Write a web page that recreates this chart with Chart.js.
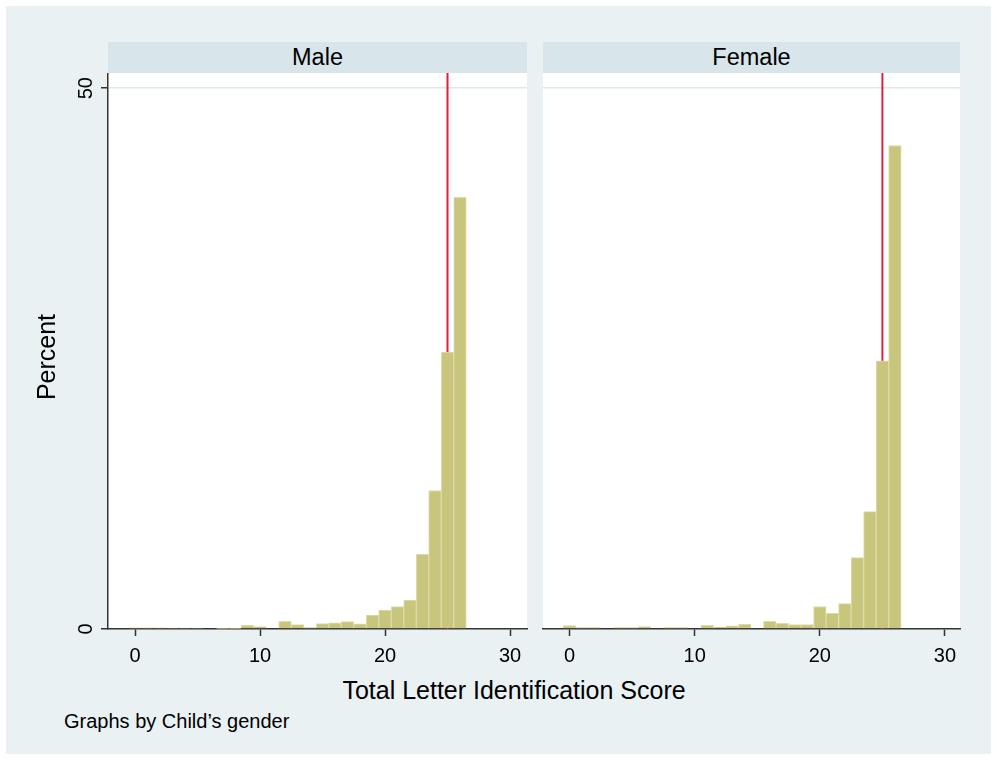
<!DOCTYPE html>
<html>
<head>
<meta charset="utf-8">
<title>Total Letter Identification Score by gender</title>
<script src="https://cdn.jsdelivr.net/npm/chart.js@4.4.1/dist/chart.umd.min.js"></script>
<style>
  html, body { margin: 0; padding: 0; background: #ffffff; }
  #page { position: relative; width: 997px; height: 760px; overflow: hidden;
          font-family: "Liberation Sans", Arial, Helvetica, sans-serif; color: #000; }
  #frame { position: absolute; left: 6px; top: 6px; width: 985px; height: 748px; background: #e9f1f3; }
  .strip { position: absolute; top: 42px; height: 31px; line-height: 31px; background: #d8e5ea;
           text-align: center; font-size: 23.5px; }
  canvas { position: absolute; }
  #ytitle { position: absolute; left: -54px; top: 342px; width: 200px; height: 30px; line-height: 30px;
            text-align: center; font-size: 25px; transform: rotate(-90deg); }
  #xtitle { position: absolute; left: 214px; top: 675px; width: 600px; height: 30px; line-height: 30px;
            text-align: center; font-size: 25px; }
  #note { position: absolute; left: 64px; top: 709px; height: 24px; line-height: 24px; font-size: 20px; white-space: nowrap; }
</style>
</head>
<body>
<div id="page">
  <div id="frame"></div>
  <div class="strip" style="left:108px;width:419px;">Male</div>
  <div class="strip" style="left:543px;width:417px;">Female</div>
  <canvas id="maleChart" width="540" height="600" style="left:0px;top:73px;"></canvas>
  <canvas id="femaleChart" width="440" height="600" style="left:530px;top:73px;"></canvas>
  <div id="ytitle">Percent</div>
  <div id="xtitle">Total Letter Identification Score</div>
  <div id="note">Graphs by Child’s gender</div>
</div>
<script>
// Score values (one bar per integer score)
const scores = [0, 1, 2, 3, 4, 5, 6, 7, 8, 9, 10, 11, 12, 13, 14, 15, 16, 17, 18, 19, 20, 21, 22, 23, 24, 25, 26];

// Percent of children at each score
const malePercent = [0.10, 0.10, 0.10, 0.08, 0.08, 0.08, 0, 0.06, 0.06, 0.35, 0.22, 0, 0.70, 0.40, 0.12,
                     0.50, 0.57, 0.68, 0.48, 1.28, 1.75, 2.08, 2.68, 6.9, 12.8, 25.6, 39.9];
const femalePercent = [0.31, 0.12, 0.12, 0, 0.12, 0.12, 0.22, 0, 0.12, 0.12, 0, 0.35, 0.18, 0.30, 0.43,
                       0, 0.72, 0.52, 0.42, 0.42, 2.08, 1.45, 2.35, 6.6, 10.85, 24.8, 44.7];

// Axis ticks and the reference score marked by the vertical line
const xTicks = [0, 10, 20, 30];
const yTicks = [0, 50];
const referenceScore = 25;

const FONT = '"Liberation Sans", Arial, Helvetica, sans-serif';
const AXIS = '#333333';
const BAR_FILL = 'rgb(200,198,124)';
const BAR_EDGE = 'rgb(222,220,170)';
const GRID = '#dde8ea';
const LINE_RED = '#e0203f';
const Y_MAX = 51.4;

const whitePlot = {
  id: 'whitePlot',
  beforeDraw(chart) {
    const a = chart.chartArea, ctx = chart.ctx;
    ctx.save();
    ctx.fillStyle = '#ffffff';
    ctx.fillRect(a.left, a.top, a.right - a.left, a.bottom - a.top);
    ctx.restore();
  }
};

// Vertical tick labels on the left axis
const rotatedYLabels = {
  id: 'rotatedYLabels',
  afterDraw(chart) {
    const ctx = chart.ctx, ys = chart.scales.y;
    ctx.save();
    ctx.fillStyle = '#000';
    ctx.font = '20px ' + FONT;
    ctx.textAlign = 'center';
    ctx.textBaseline = 'alphabetic';
    yTicks.forEach(v => {
      ctx.save();
      ctx.translate(ys.left + 92, ys.getPixelForValue(v));
      ctx.rotate(-Math.PI / 2);
      ctx.fillText(String(v), 0, 0);
      ctx.restore();
    });
    ctx.restore();
  }
};

function makePanel(canvasId, values, withYAxis, xMin, xMax) {
  const bars = scores.map((s, i) => ({ x: s, y: values[i] }));
  return new Chart(document.getElementById(canvasId), {
    type: 'bar',
    data: {
      datasets: [
        {
          type: 'bar',
          data: bars,
          backgroundColor: BAR_FILL,
          borderColor: BAR_EDGE,
          borderWidth: 1,
          barPercentage: 1,
          categoryPercentage: 1,
          order: 1
        },
        {
          type: 'line',
          data: [{ x: referenceScore, y: 0 }, { x: referenceScore, y: Y_MAX }],
          borderColor: LINE_RED,
          borderWidth: 2,
          pointRadius: 0,
          fill: false,
          order: 2
        }
      ]
    },
    options: {
      responsive: false,
      animation: false,
      events: [],
      layout: { padding: withYAxis ? { left: 0, right: 13, top: 0, bottom: 4 }
                                   : { left: 13, right: 10, top: 0, bottom: 4 } },
      plugins: { legend: { display: false }, tooltip: { enabled: false } },
      scales: {
        x: {
          type: 'linear',
          offset: false,
          min: xMin,
          max: xMax,
          afterBuildTicks: s => { s.ticks = xTicks.map(v => ({ value: v })); },
          afterFit: s => { s.height = 40; },
          border: { display: true, color: AXIS, width: 1.5 },
          grid: { offset: false, drawOnChartArea: false, drawTicks: true, tickLength: 7, tickColor: AXIS, tickWidth: 1.5 },
          ticks: { color: '#000', font: { size: 20, family: FONT }, padding: 8, maxRotation: 0, autoSkip: false }
        },
        y: {
          type: 'linear',
          min: 0,
          max: Y_MAX,
          afterBuildTicks: s => { s.ticks = yTicks.map(v => ({ value: v })); },
          afterFit: s => { s.width = withYAxis ? 108 : 0; },
          border: { display: withYAxis, color: AXIS, width: 1.5 },
          grid: {
            color: c => (c.tick && c.tick.value === 50) ? GRID : 'rgba(0,0,0,0)',
            lineWidth: 1.5,
            drawTicks: withYAxis,
            tickLength: withYAxis ? 7 : 0,
            tickColor: AXIS,
            tickWidth: 1.5
          },
          ticks: { display: false }
        }
      }
    },
    plugins: withYAxis ? [whitePlot, rotatedYLabels] : [whitePlot]
  });
}

makePanel('maleChart', malePercent, true, -2.16, 31.36);
makePanel('femaleChart', femalePercent, false, -2.12, 31.2);
</script>
</body>
</html>
